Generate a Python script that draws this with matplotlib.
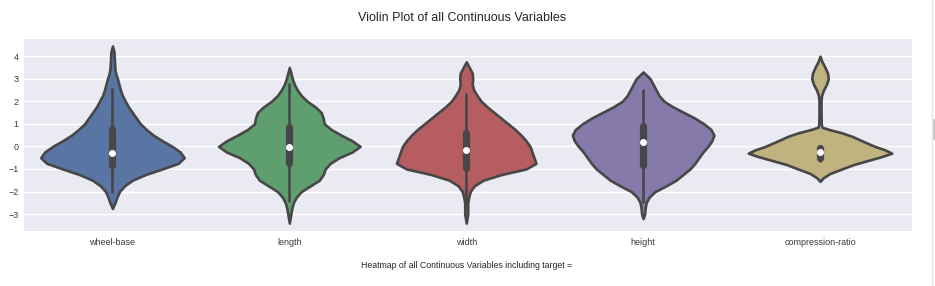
import colorsys
import numpy as np
import matplotlib
matplotlib.use('Agg')
import matplotlib.pyplot as plt
import matplotlib.colors as mcolors
from matplotlib.lines import Line2D

plt.rcParams['font.family'] = ['Liberation Sans', 'DejaVu Sans']

names = ['wheel-base', 'length', 'width', 'height', 'compression-ratio']
palette = ['#4C72B0', '#55A868', '#C44E52', '#8172B2', '#CCB974']

# violin outlines: value -> half width in pixels
wb_y = [4.45, 4.2, 3.8, 3.4, 3.2, 3.0, 2.75, 2.5, 2.25, 2.0, 1.75, 1.5, 1.25, 1.0, 0.75,
        0.5, 0.25, 0.0, -0.25, -0.5, -0.75, -1.0, -1.25, -1.5, -1.75, -2.0, -2.25, -2.5, -2.75]
wb_w = [0, 1.5, 2, 2.5, 3.5, 5, 6.5, 8, 10, 13, 16, 20, 24, 28, 34,
        41, 50, 60, 68, 72, 66, 50, 33, 20, 12, 7, 4.5, 2.5, 0]

len_y = [3.5, 3.25, 3.0, 2.75, 2.5, 2.25, 2.0, 1.75, 1.5, 1.25, 1.0, 0.75, 0.5, 0.25, 0.0,
         -0.25, -0.5, -0.75, -1.0, -1.25, -1.5, -1.75, -2.0, -2.25, -2.5, -2.75, -3.0, -3.4]
len_w = [0, 1.5, 3, 5, 8, 12, 18, 26, 32, 34, 35, 42, 52, 63, 71,
         63, 50, 41, 36, 34, 30, 21, 12, 7, 4, 2.5, 1.5, 0]

wid_y = [3.75, 3.5, 3.25, 3.0, 2.75, 2.5, 2.25, 2.0, 1.75, 1.5, 1.25, 1.0, 0.75, 0.5, 0.25,
         0.0, -0.25, -0.5, -0.75, -1.0, -1.25, -1.5, -1.75, -2.0, -2.25, -2.5, -3.0, -3.4]
wid_w = [0, 3, 6, 6.5, 6, 7.5, 11, 15, 21, 28, 35, 42, 49, 55, 60,
         64, 66, 68, 70, 60, 35, 17, 8, 4, 2.5, 1.5, 1.5, 0]

hgt_y = [3.3, 3.0, 2.75, 2.5, 2.25, 2.0, 1.75, 1.5, 1.25, 1.0, 0.75, 0.5, 0.25, 0.0,
         -0.25, -0.5, -0.75, -1.0, -1.25, -1.5, -1.75, -2.0, -2.25, -2.5, -2.75, -3.0, -3.2]
hgt_w = [0, 7, 10, 13, 16, 21, 30, 41, 52, 61, 68, 71, 69, 65,
         60, 56, 52, 47, 40, 33, 23, 12, 6, 3, 2, 1.5, 0]

cr_y = [4.0, 3.75, 3.5, 3.25, 3.0, 2.75, 2.5, 2.25, 2.0, 1.5, 1.0, 0.85, 0.75, 0.6, 0.45,
        0.25, 0.0, -0.15, -0.3, -0.45, -0.6, -0.8, -1.0, -1.2, -1.4, -1.55]
cr_w = [0, 2, 5, 7.5, 8.3, 6.5, 3.5, 1.5, 1, 1, 1.2, 2, 9, 22, 32,
        42, 55, 65, 72, 62, 50, 34, 22, 10, 3, 0]

outline_y = [wb_y, len_y, wid_y, hgt_y, cr_y]
outline_w = [wb_w, len_w, wid_w, hgt_w, cr_w]

# inner box: quartiles, median, whisker ends
q1 = [-0.82, -0.74, -0.96, -0.82, -0.52]
med = [-0.30, -0.04, -0.18, 0.18, -0.27]
q3 = [0.75, 0.87, 0.60, 0.90, -0.05]
wlo = [-2.08, -2.45, -2.60, -2.50, -0.68]
whi = [2.60, 2.83, 2.38, 2.56, 0.00]


def desat(c, prop=0.75):
    r, g, b = mcolors.to_rgb(c)
    h, l, s = colorsys.rgb_to_hls(r, g, b)
    return colorsys.hls_to_rgb(h, l, s * prop)


px_per_cat = 177.5
gray = '#474747'

fig = plt.figure(figsize=(9.35, 2.86), dpi=100)
ax = fig.add_axes([24 / 935, 1 - 231 / 286, 888 / 935, 192 / 286])
ax.set_facecolor('#EAEAF2')
for s in ax.spines.values():
    s.set_visible(False)
ax.grid(axis='y', color='white', lw=1.0)
ax.set_axisbelow(True)

for i in range(len(names)):
    ys = np.array(outline_y[i])[::-1]
    ws = np.array(outline_w[i], dtype=float)[::-1]
    stats = [dict(coords=ys, vals=ws, mean=med[i], median=med[i],
                  min=ys.min(), max=ys.max())]
    parts = ax.violin(stats, positions=[i], widths=[2 * ws.max() / px_per_cat],
                      showmeans=False, showextrema=False, showmedians=False)
    for b in parts['bodies']:
        b.set_facecolor(desat(palette[i]))
        b.set_edgecolor(gray)
        b.set_linewidth(1.9)
        b.set_alpha(1)
        b.set_zorder(2)
        b.set_joinstyle('round')
    ax.vlines(i, wlo[i], whi[i], color=gray, lw=1.9, zorder=3)
    ax.vlines(i, q1[i], q3[i], color=gray, lw=5.2, zorder=3,
              capstyle='round')
    ax.plot(i, med[i], 'o', color='white', ms=4.0, zorder=4)

ax.set_xlim(-0.5, 4.52)
ax.set_ylim(-3.75, 4.76)
ax.set_yticks(range(-3, 5))
ax.set_xticks(range(len(names)))
ax.set_xticklabels(names)
ax.tick_params(length=0, labelsize=6.5, colors='#3a3a3a', pad=5)
ax.tick_params(axis='y', pad=4)

fig.text(462 / 935, 1 - 18 / 286, 'Violin Plot of all Continuous Variables',
         ha='center', va='center', fontsize=9, color='#262626')
fig.text(467 / 935, 1 - 265 / 286, 'Heatmap of all Continuous Variables including target =',
         ha='center', va='center', fontsize=6.3, color='#262626')

# notebook scrollbar at the right edge
fig.add_artist(Line2D([932 / 935, 932 / 935], [0, 1], color='#e6e6e6', lw=1))
fig.add_artist(Line2D([934 / 935, 934 / 935], [1 - 120 / 286, 1 - 138 / 286],
                      color='#c8c8c8', lw=2))

fig.savefig('out.png', dpi=100)
